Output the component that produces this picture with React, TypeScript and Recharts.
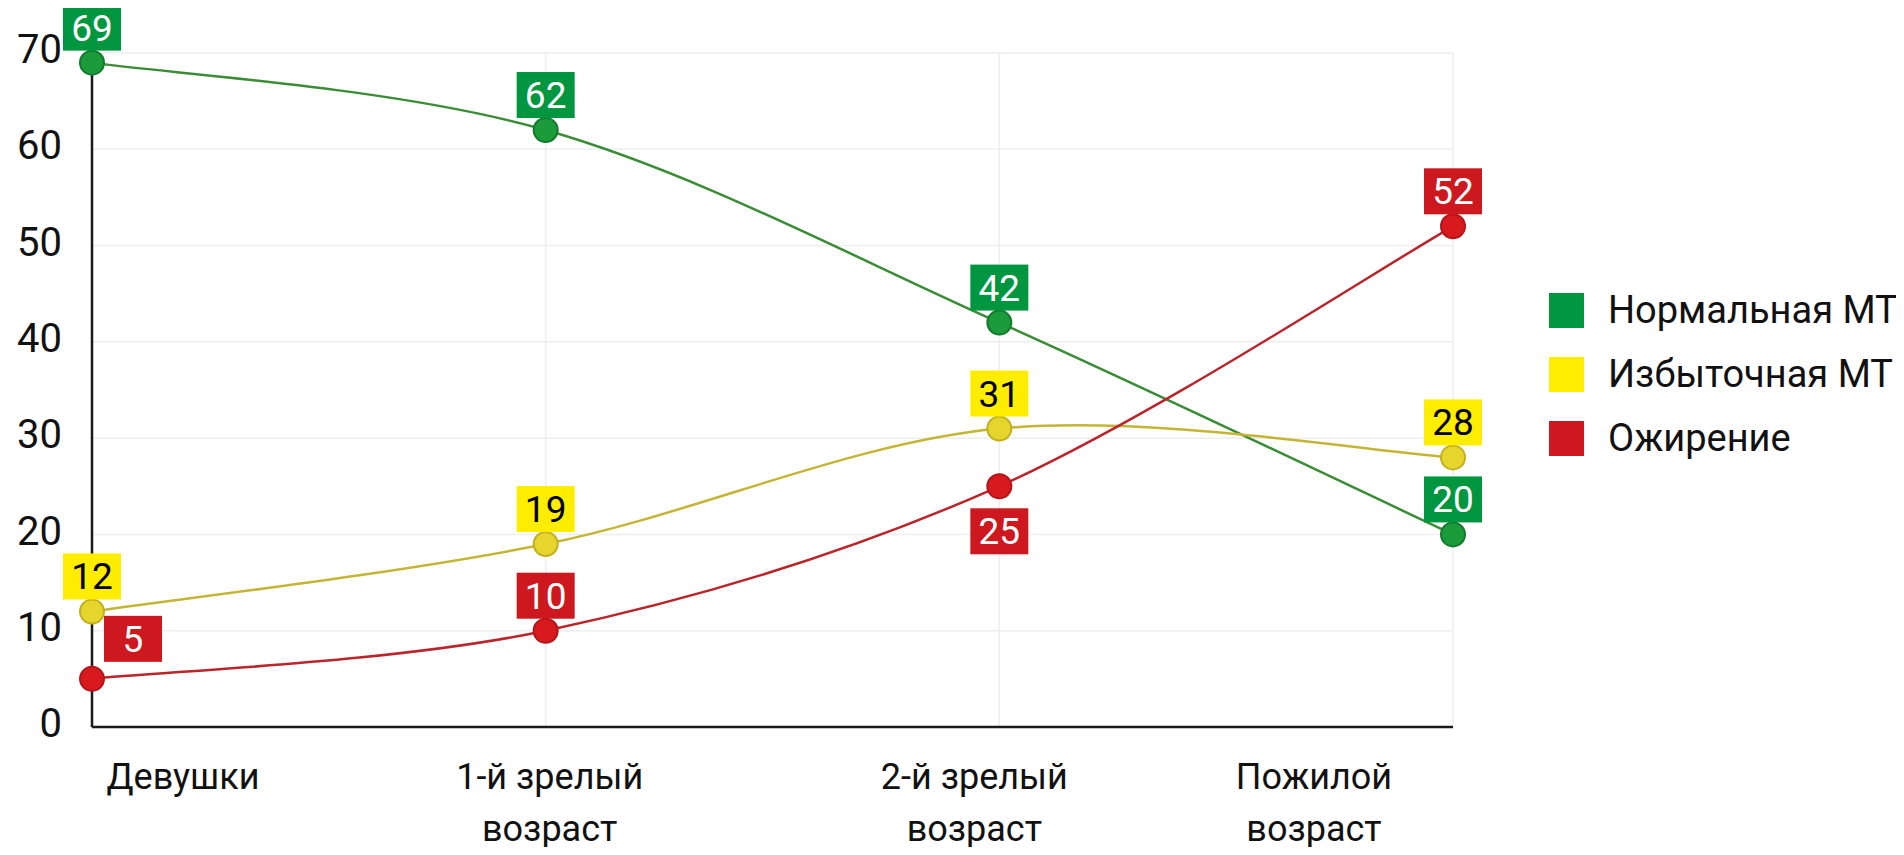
import React from 'react';
import { LineChart, Line, CartesianGrid, XAxis, YAxis, Legend, LabelList } from 'recharts';

const groups = ['Девушки', '1-й зрелый возраст', '2-й зрелый возраст', 'Пожилой возраст'];
const normal = [69, 62, 42, 20];
const overweight = [12, 19, 31, 28];
const obesity = [5, 10, 25, 52];
const yTicks = [0, 10, 20, 30, 40, 50, 60, 70];

const series = [
  { key: 'normal', name: 'Нормальная МТ', box: '#009640', text: '#fff', line: '#3a8c36', dot: '#1c9b3b', dotStroke: '#117a2c' },
  { key: 'overweight', name: 'Избыточная МТ', box: '#ffed00', text: '#000', line: '#c4b535', dot: '#e5d52c', dotStroke: '#c2b020' },
  { key: 'obesity', name: 'Ожирение', box: '#cc181e', text: '#fff', line: '#b8252a', dot: '#d81a1e', dotStroke: '#b0161a' },
];

const data = groups.map((group, i) => ({
  group,
  normal: normal[i],
  overweight: overweight[i],
  obesity: obesity[i],
}));

// where each obesity label sits relative to its point
const obesityPlace = ['right', 'above', 'below', 'above'];
// horizontal shift of the category labels
const labelShift = [91, 4, -25, -139];

const FONT = 'Roboto, "Noto Sans", sans-serif';

// Excel-like smoothing (Catmull-Rom)
const smooth = (ctx: any) => {
  let pts: number[][] = [];
  return {
    areaStart() {},
    areaEnd() {},
    lineStart() {
      pts = [];
    },
    lineEnd() {
      if (!pts.length) return;
      ctx.moveTo(pts[0][0], pts[0][1]);
      for (let i = 0; i < pts.length - 1; i++) {
        const p0 = pts[i - 1] || pts[i];
        const p1 = pts[i];
        const p2 = pts[i + 1];
        const p3 = pts[i + 2] || p2;
        ctx.bezierCurveTo(
          p1[0] + (p2[0] - p0[0]) / 6,
          p1[1] + (p2[1] - p0[1]) / 6,
          p2[0] - (p3[0] - p1[0]) / 6,
          p2[1] - (p3[1] - p1[1]) / 6,
          p2[0],
          p2[1]
        );
      }
    },
    point(x: number, y: number) {
      pts.push([+x, +y]);
    },
  };
};

const makeLabel = (s: any) => (props: any) => {
  const { x, y, value, index } = props;
  const w = 58;
  const h = 46;
  const place = s.key === 'obesity' ? obesityPlace[index] : 'above';
  let cx = x;
  let top = y - 12 - h;
  if (place === 'below') top = y + 22;
  if (place === 'right') {
    cx = x + 41;
    top = y - 17 - h;
  }
  return (
    <g>
      <rect x={cx - w / 2} y={top} width={w} height={h} fill={s.box} />
      <text x={cx} y={top + h / 2 + 13} textAnchor="middle" fontSize={37} fill={s.text} fontFamily={FONT}>
        {value}
      </text>
    </g>
  );
};

const CategoryTick = (props: any) => {
  const { x, y, payload, index } = props;
  const label: string = payload.value;
  const cut = label.lastIndexOf(' ');
  const lines = cut > 0 ? [label.slice(0, cut), label.slice(cut + 1)] : [label];
  return (
    <text x={x + labelShift[index]} y={y} textAnchor="middle" fontSize={36} fill="#111" fontFamily={FONT}>
      {lines.map((l, i) => (
        <tspan key={i} x={x + labelShift[index]} dy={i === 0 ? 62 : 52}>
          {l}
        </tspan>
      ))}
    </text>
  );
};

const LegendBox = () => (
  <div style={{ fontFamily: FONT }}>
    {series.map((s) => (
      <div key={s.key} style={{ display: 'flex', alignItems: 'center', height: 64 }}>
        <div style={{ width: 35, height: 35, background: s.box, marginRight: 24 }} />
        <span style={{ fontSize: 38, color: '#111', whiteSpace: 'nowrap' }}>{s.name}</span>
      </div>
    ))}
  </div>
);

export default function App() {
  return (
    <div style={{ width: 1904, height: 855, margin: -8, background: '#fff' }}>
      <LineChart width={1904} height={855} data={data} margin={{ top: 53, right: 451, bottom: 18, left: 0 }}>
        <CartesianGrid stroke="#eeeeee" strokeWidth={1.5} />
        <XAxis
          dataKey="group"
          interval={0}
          tickLine={false}
          tickSize={0}
          tickMargin={0}
          height={110}
          axisLine={{ stroke: '#1a1a1a', strokeWidth: 2.5 }}
          tick={<CategoryTick />}
        />
        <YAxis
          width={92}
          domain={[0, 70]}
          ticks={yTicks}
          tickLine={false}
          tickSize={0}
          tickMargin={30}
          axisLine={{ stroke: '#1a1a1a', strokeWidth: 2.5 }}
          tick={{ fontSize: 40, fill: '#111', fontFamily: FONT, dy: -4 }}
        />
        <Legend
          layout="vertical"
          align="center"
          verticalAlign="middle"
          content={<LegendBox />}
          wrapperStyle={{ position: 'absolute', left: 1549, top: 278, width: 'auto', height: 'auto' }}
        />
        {series.map((s) => (
          <Line
            key={s.key}
            dataKey={s.key}
            name={s.name}
            type={smooth as any}
            stroke={s.line}
            strokeWidth={2.5}
            dot={{ r: 12, fill: s.dot, stroke: s.dotStroke, strokeWidth: 2 }}
            activeDot={false}
            isAnimationActive={false}
          >
            <LabelList dataKey={s.key} content={makeLabel(s)} />
          </Line>
        ))}
      </LineChart>
    </div>
  );
}
